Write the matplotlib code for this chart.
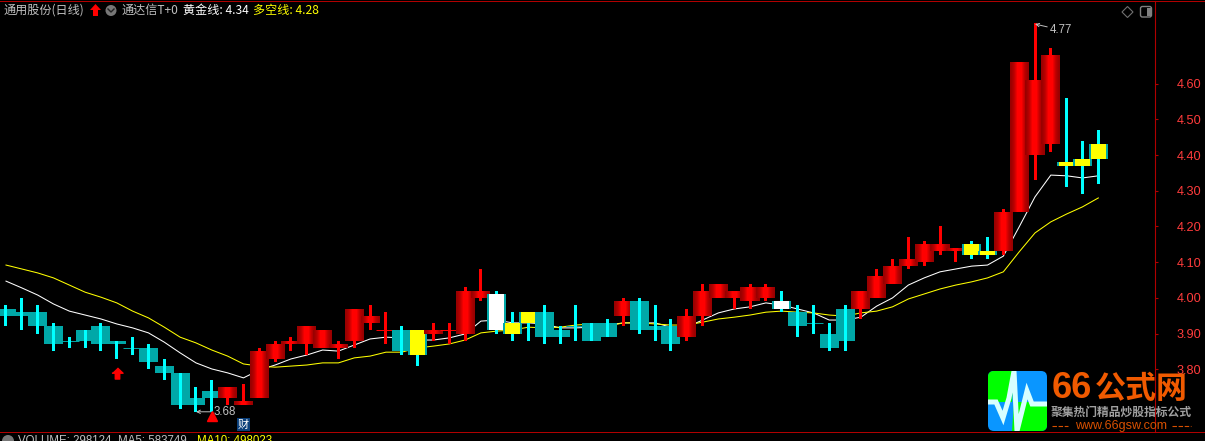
"""K-line chart of 通用股份 with two moving lines, drawn on a black terminal-style pane."""

import numpy as np
import matplotlib
matplotlib.use("Agg")
import matplotlib.pyplot as plt
from matplotlib.patches import FancyBboxPatch, Polygon, Rectangle

plt.rcParams['font.family'] = ['Noto Sans CJK SC', 'DejaVu Sans']

# Candle values
candle_open = [3.97, 3.96, 3.96, 3.92, 3.88, 3.91, 3.92, 3.88, 3.86, 3.86,
               3.81, 3.79, 3.72, 3.74, 3.72, 3.70, 3.72, 3.83, 3.87, 3.87,
               3.86, 3.86, 3.88, 3.93, 3.91, 3.91, 3.91, 3.90, 3.91, 3.90,
               4.00, 4.01, 3.93, 3.96, 3.96, 3.91, 3.92, 3.93, 3.93, 3.95,
               3.99, 3.92, 3.92, 3.89, 3.95, 4.00, 4.00, 3.99, 4.00, 3.99,
               3.96, 3.93, 3.90, 3.97, 3.97, 4.00, 4.04, 4.09, 4.10, 4.13,
               4.13, 4.15, 4.13, 4.13, 4.24, 4.40, 4.43, 4.38, 4.39, 4.43]
candle_high = [3.98, 4.00, 3.98, 3.93, 3.89, 3.91, 3.93, 3.88, 3.89, 3.87,
               3.83, 3.79, 3.75, 3.77, 3.75, 3.76, 3.86, 3.88, 3.89, 3.92,
               3.91, 3.88, 3.97, 3.98, 3.96, 3.92, 3.91, 3.93, 3.93, 4.03,
               4.08, 4.02, 3.96, 3.96, 3.98, 3.92, 3.98, 3.93, 3.94, 4.00,
               4.00, 3.98, 3.94, 3.97, 4.04, 4.04, 4.02, 4.04, 4.04, 4.02,
               3.98, 3.98, 3.93, 3.98, 4.02, 4.08, 4.11, 4.17, 4.16, 4.20,
               4.14, 4.16, 4.17, 4.25, 4.66, 4.77, 4.70, 4.56, 4.44, 4.47]
candle_low = [3.92, 3.91, 3.90, 3.85, 3.86, 3.86, 3.85, 3.83, 3.84, 3.80,
              3.77, 3.69, 3.68, 3.68, 3.70, 3.70, 3.72, 3.82, 3.85, 3.84,
              3.86, 3.83, 3.86, 3.91, 3.87, 3.84, 3.81, 3.88, 3.87, 3.88,
              3.99, 3.90, 3.88, 3.88, 3.87, 3.87, 3.88, 3.88, 3.89, 3.92,
              3.90, 3.88, 3.85, 3.88, 3.92, 4.00, 3.97, 3.97, 3.99, 3.96,
              3.89, 3.90, 3.85, 3.85, 3.94, 4.00, 4.04, 4.08, 4.09, 4.12,
              4.10, 4.11, 4.11, 4.12, 4.24, 4.33, 4.41, 4.31, 4.29, 4.32]
candle_close = [3.95, 3.95, 3.92, 3.87, 3.88, 3.88, 3.87, 3.87, 3.86, 3.82,
                3.79, 3.70, 3.70, 3.72, 3.75, 3.71, 3.85, 3.87, 3.88, 3.92,
                3.91, 3.87, 3.97, 3.95, 3.91, 3.85, 3.84, 3.91, 3.91, 4.02,
                4.02, 3.91, 3.90, 3.93, 3.89, 3.89, 3.92, 3.88, 3.89, 3.99,
                3.91, 3.91, 3.87, 3.95, 4.02, 4.04, 4.02, 4.03, 4.03, 3.97,
                3.92, 3.93, 3.86, 3.88, 4.02, 4.06, 4.09, 4.11, 4.15, 4.15,
                4.14, 4.12, 4.12, 4.24, 4.66, 4.61, 4.68, 4.37, 4.37, 4.39]
# r = red, t = teal, y = yellow body, w = white body
candle_kind = list("tttttttttttttt" "rrrrr" "rrrrrr" "ty" "rrrr" "wyy" "ttttt"
                   "r" "ttt" "rrrrrr" "wtttt" "rrrrrrr" "yy" "rrrr" "yyy")

# Moving lines
golden_line = [4.047, 4.028, 4.008, 3.983, 3.963, 3.952, 3.941, 3.927, 3.916, 3.902,
               3.876, 3.846, 3.818, 3.801, 3.790, 3.776, 3.798, 3.812, 3.829, 3.840,
               3.854, 3.851, 3.868, 3.885, 3.890, 3.888, 3.882, 3.882, 3.888, 3.899,
               3.935, 3.938, 3.930, 3.930, 3.927, 3.916, 3.916, 3.918, 3.924, 3.930,
               3.930, 3.930, 3.918, 3.918, 3.938, 3.958, 3.969, 3.975, 3.986, 3.980,
               3.969, 3.958, 3.938, 3.938, 3.946, 3.977, 4.000, 4.036, 4.056, 4.073,
               4.081, 4.089, 4.092, 4.117, 4.199, 4.283, 4.344, 4.342, 4.336, 4.342]
bull_bear_line = [4.092, 4.081, 4.070, 4.056, 4.036, 4.016, 4.002, 3.986, 3.963, 3.944,
                  3.918, 3.890, 3.874, 3.854, 3.837, 3.815, 3.809, 3.806, 3.809, 3.812,
                  3.818, 3.818, 3.832, 3.837, 3.848, 3.848, 3.860, 3.865, 3.871, 3.882,
                  3.902, 3.907, 3.910, 3.918, 3.916, 3.918, 3.924, 3.927, 3.921, 3.930,
                  3.930, 3.927, 3.924, 3.924, 3.932, 3.941, 3.946, 3.952, 3.960, 3.963,
                  3.960, 3.958, 3.952, 3.949, 3.958, 3.963, 3.975, 3.997, 4.011, 4.025,
                  4.036, 4.045, 4.056, 4.073, 4.129, 4.182, 4.213, 4.235, 4.255, 4.280]

tick_values = [3.8, 3.9, 4.0, 4.1, 4.2, 4.3, 4.4, 4.5, 4.6]
tick_labels = ["3.80", "3.90", "4.00", "4.10", "4.20", "4.30", "4.40", "4.50", "4.60"]
grid_values = [3.8, 4.0, 4.2, 4.4, 4.6]

TEAL = "#00a8a8"
CYAN = "#00ffff"
RED = "#ff0000"
YELLOW = "#ffff00"
AXIS_RED = "#b00000"
LABEL_RED = "#ff3c3c"
GRAY = "#c0c0c0"
ORANGE = "#f05a00"

PX = 1 / 15.83  # one pixel in bar units
BODY_W = 19 * PX
INNER_W = 15 * PX
WICK_W = 3 * PX

# bright centre, dark edges across a red body, one strip per pixel
band = [.60, .62, .66, .70, .76, .84, .92, 1, 1, 1, 1, 1, .92, .84, .76, .70, .66, .62, .60]
band_colors = [(b, 0, 0) for b in band]
band_offsets = (np.arange(19) - 9) * PX

fig = plt.figure(figsize=(12.05, 4.41), dpi=100, facecolor="black")

ax = fig.add_axes([0, 9 / 441, 1155 / 1205, 431 / 441], facecolor="black")

x = np.arange(len(candle_open))
ax.plot(x, golden_line, color="white", lw=0.75, zorder=2)
ax.plot(x, bull_bear_line, color=YELLOW, lw=0.75, zorder=2)

for i in x:
    o, h, l, c = candle_open[i], candle_high[i], candle_low[i], candle_close[i]
    kind = candle_kind[i]
    top, bot = max(o, c), min(o, c)
    z = 3 + i * 0.01
    if kind == "r":
        if top > bot:
            ax.bar(i + band_offsets, top - bot, PX * 1.1, bottom=bot, color=band_colors,
                   zorder=z, antialiased=False)
        else:
            ax.hlines(top, i - BODY_W / 2, i + BODY_W / 2, color=RED, lw=0.7, zorder=z)
        ax.bar(i, h - l, WICK_W, bottom=l, color=RED, zorder=z + 0.001, antialiased=False)
    elif kind == "t":
        if top > bot:
            ax.bar(i, top - bot, BODY_W, bottom=bot, color=TEAL, zorder=z, antialiased=False)
        else:
            ax.hlines(top, i - BODY_W / 2, i + BODY_W / 2, color=TEAL, lw=0.7, zorder=z)
        ax.bar(i, h - l, WICK_W, bottom=l, color=CYAN, zorder=z + 0.001, antialiased=False)
    else:
        fill = YELLOW if kind == "y" else "white"
        ax.bar(i, h - l, WICK_W, bottom=l, color=CYAN, zorder=z, antialiased=False)
        ax.bar(i, top - bot, BODY_W, bottom=bot, color=TEAL, zorder=z + 0.001, antialiased=False)
        ax.bar(i, top - bot, INNER_W, bottom=bot, color=fill, zorder=z + 0.002, antialiased=False)

ax.set_xlim(-0.379, 72.58)
ax.set_ylim(3.6244, 4.8316)

# signal markers
arrow_marker = [(0, 1), (1, 0.05), (0.4, 0.05), (0.4, -1), (-0.4, -1), (-0.4, 0.05), (-1, 0.05)]
ax.plot(7, 3.79, marker=arrow_marker, ms=8, color=RED, zorder=6, clip_on=False)

# high / low notes
note_arrow = dict(arrowstyle="->", color=GRAY, lw=0.7, shrinkA=0, shrinkB=0, mutation_scale=6)
ax.annotate("4.77", xy=(65, candle_high[65] - 0.003), xytext=(15, -6), textcoords="offset pixels",
            color=GRAY, fontsize=8.3, family="Liberation Sans", va="center", arrowprops=note_arrow, zorder=8)
ax.annotate("3.68", xy=(12, candle_low[12] + 0.001), xytext=(18, 0), textcoords="offset pixels",
            color=GRAY, fontsize=8.3, family="Liberation Sans", va="center", arrowprops=note_arrow, zorder=3.05)
ax.plot(13, 3.668, marker="^", ms=6.5, color=RED, zorder=3.2, clip_on=False)

for name in ("top", "left", "bottom"):
    ax.spines[name].set_visible(False)
ax.spines["right"].set_color(AXIS_RED)
ax.spines["right"].set_linewidth(0.8)
ax.yaxis.tick_right()
ax.set_xticks([])
ax.set_yticks(tick_values, tick_labels)
ax.set_yticks(grid_values, minor=True)
ax.tick_params(axis="y", which="major", length=2.2, width=0.8, color=AXIS_RED, labelcolor=LABEL_RED,
               labelsize=9.2, pad=13.5)
ax.tick_params(axis="y", which="minor", length=4.3, width=0.8, color=AXIS_RED)
for lab in ax.get_yticklabels():
    lab.set_family("Liberation Sans")
ax.grid(True, axis="y", which="minor", color="#a00000", lw=0.72, linestyle=(0, (1, 2.7)), antialiased=False)
ax.set_axisbelow(True)

# overlay in pixels for the terminal chrome
chrome = fig.add_axes([0, 0, 1, 1], facecolor="none", zorder=5)
chrome.set_xlim(0, 1205)
chrome.set_ylim(441, 0)
chrome.axis("off")

chrome.plot([0, 1205], [432, 432], color=AXIS_RED, lw=0.7, antialiased=False)
chrome.plot([0, 1205], [0.7, 0.7], color=AXIS_RED, lw=0.7, antialiased=False)

chrome.text(3, 10.5, "通用股份(日线)", color=GRAY, fontsize=8.7, va="center")
chrome.add_patch(Polygon([(95.5, 4), (101, 10), (98, 10), (98, 16), (93, 16), (93, 10), (90, 10)],
                         facecolor=RED, edgecolor="none"))
chrome.add_patch(plt.Circle((111, 10.5), 5.5, facecolor="#777777", edgecolor="none"))
chrome.plot([108, 111, 114], [9, 12, 9], color="#222222", lw=1)
chrome.text(121, 10.5, "通达信T+0", color=GRAY, fontsize=8.7, va="center")
chrome.text(183, 10.5, "黄金线: 4.34", color="white", fontsize=8.7, va="center")
chrome.text(253, 10.5, "多空线: 4.28", color=YELLOW, fontsize=8.7, va="center")

# top right buttons
chrome.add_patch(Polygon([(1127.5, 6.5), (1133, 12), (1127.5, 17.5), (1122, 12)],
                         facecolor="none", edgecolor="#707070", lw=0.8))
chrome.add_patch(FancyBboxPatch((1141, 7), 10, 9.5, boxstyle="round,pad=0.5,rounding_size=2",
                                facecolor="none", edgecolor="#808080", lw=1))
chrome.add_patch(Rectangle((1147, 8), 4, 8, facecolor="#808080", edgecolor="none"))

# 财 marker
chrome.add_patch(Rectangle((237, 418), 13, 13, facecolor="#0a3f7a", edgecolor="none"))
chrome.text(243.5, 424.5, "财", color="white", fontsize=8, ha="center", va="center")

# status row, clipped by the window edge
chrome.add_patch(plt.Circle((8, 441), 6, facecolor="#777777", edgecolor="none"))
status_font = dict(fontsize=8.3, va="top", family="Liberation Sans")
chrome.text(18, 434.5, "VOLUME: 298124  MA5: 583749", color=GRAY, **status_font)
chrome.text(197, 434.5, "MA10: 498023", color=YELLOW, **status_font)

# logo
logo_box = FancyBboxPatch((992, 375), 51, 52, boxstyle="round,pad=4,rounding_size=6",
                          facecolor="#0a96ff", edgecolor="none", zorder=6)
chrome.add_patch(logo_box)
for pts, col in (([(987, 371), (1014, 371), (1012, 402), (987, 402)], "#00ff00"),
                 ([(1014, 402), (1047, 402), (1047, 431), (1012, 431)], "#00ff00")):
    patch = Polygon(pts, facecolor=col, edgecolor="none", zorder=6.1)
    chrome.add_patch(patch)
    patch.set_clip_path(logo_box)
pulse_x = [987, 996, 1003, 1009, 1014, 1017, 1027, 1032, 1047]
pulse_y = [402, 402, 418, 398, 371, 431, 391, 404, 404]
pulse = chrome.plot(pulse_x, pulse_y, color="#d8ffff", lw=3.6, zorder=6.2, solid_joinstyle="miter")[0]
pulse.set_clip_path(logo_box)

chrome.text(1052, 389, "66", color=ORANGE, fontsize=26, fontweight="bold", family="Liberation Sans",
            va="center", zorder=7)
chrome.text(1095, 389, "公式网", color=ORANGE, fontsize=22.3, fontweight="bold", va="center", zorder=7)
chrome.text(1051, 412, "聚集热门精品炒股指标公式", color="#a0a0a0", fontsize=8.5, fontweight="bold",
            va="center", zorder=7)
chrome.text(1075, 426, "www.66gsw.com", color="#d85000", fontsize=9, family="Liberation Sans",
            va="center", zorder=7)
for x0, x1 in ((1052, 1068), (1172, 1191)):
    chrome.plot([x0, x1], [426, 426], color="#d85000", lw=0.8, linestyle=(0, (4, 1.5)), zorder=7)

fig.savefig("out.png", dpi=100, facecolor="black")
